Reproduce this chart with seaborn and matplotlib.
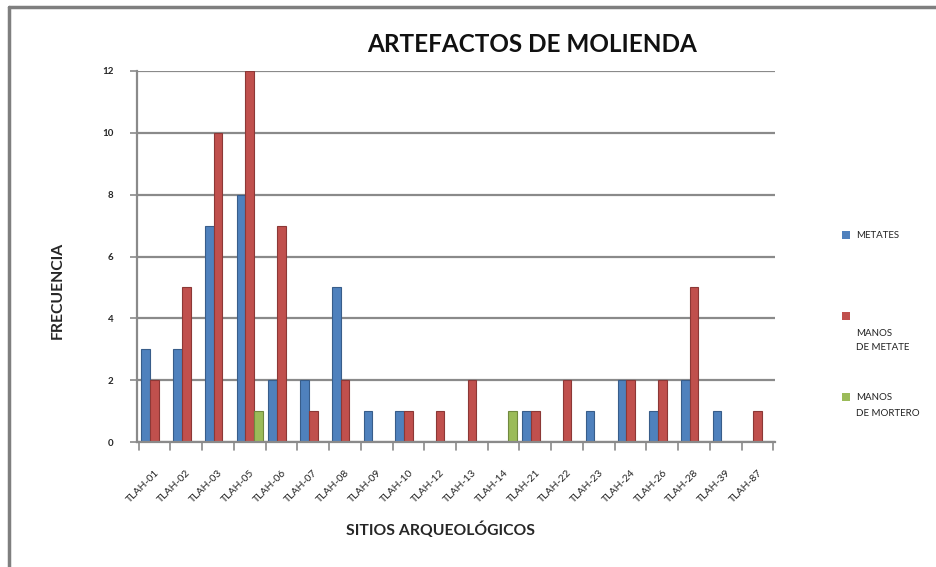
import matplotlib
matplotlib.use("Agg")
import matplotlib.pyplot as plt
from matplotlib.lines import Line2D
from matplotlib.patches import Rectangle
import seaborn as sns
import pandas as pd
import numpy as np

sitios = ["TLAH-01", "TLAH-02", "TLAH-03", "TLAH-05", "TLAH-06", "TLAH-07",
          "TLAH-08", "TLAH-09", "TLAH-10", "TLAH-12", "TLAH-13", "TLAH-14",
          "TLAH-21", "TLAH-22", "TLAH-23", "TLAH-24", "TLAH-26", "TLAH-28",
          "TLAH-39", "TLAH-87"]
metates = [3, 3, 7, 8, 2, 2, 5, 1, 1, 0, 0, 0, 1, 0, 1, 2, 1, 2, 1, 0]
manos_metate = [2, 5, 10, 12, 7, 1, 2, 0, 1, 1, 2, 0, 1, 2, 0, 2, 2, 5, 0, 1]
manos_mortero = [0, 0, 0, 1, 0, 0, 0, 0, 0, 0, 0, 1, 0, 0, 0, 0, 0, 0, 0, 0]
series = ["METATES", "MANOS DE METATE", "MANOS DE MORTERO"]
y_ticks = [0, 2, 4, 6, 8, 10, 12]

colores = ["#4F81BD", "#C0504D", "#9BBB59"]
bordes = ["#385D8A", "#8C3836", "#71893F"]

df = pd.DataFrame({
    "sitio": sitios * 3,
    "valor": metates + manos_metate + manos_mortero,
    "serie": [series[0]] * len(sitios) + [series[1]] * len(sitios) + [series[2]] * len(sitios),
})

sns.set_theme(style="white")
plt.rcParams["font.family"] = ["Lato", "DejaVu Sans"]

W, H = 936, 567
fig = plt.figure(figsize=(W / 100, H / 100), dpi=100)
ax = fig.add_axes([137 / W, 1 - 442 / H, (775 - 137) / W, (442 - 71) / H])

sns.barplot(data=df, x="sitio", y="valor", hue="serie", hue_order=series,
            palette=colores, width=0.82, ax=ax, legend=False, saturation=1)

for container, borde in zip(ax.containers, bordes):
    for bar in container:
        bar.set_edgecolor(borde)
        bar.set_linewidth(0.8)

ax.set_ylim(0, 12)
ax.set_xlim(-0.55, len(sitios) - 0.45)
ax.set_yticks(y_ticks)
ax.set_yticklabels([str(t) for t in y_ticks], fontsize=7, fontweight="bold")
ax.yaxis.grid(True, color="#8a8a8a", linewidth=1.6)
ax.set_axisbelow(True)

ax.set_xticks(np.arange(len(sitios)))
ax.set_xticklabels(sitios, rotation=45, ha="right", rotation_mode="anchor",
                   fontsize=7.5, color="#222222")
ax.tick_params(axis="x", length=0, pad=19)
ax.tick_params(axis="y", length=5, width=1.2, color="#8a8a8a", pad=12, left=True)

# boundary ticks along the category axis
for b in np.arange(len(sitios) + 1) - 0.5:
    ax.plot([b, b], [0, -0.25], color="#8a8a8a", lw=1.2, clip_on=False)

for side in ["top", "right"]:
    ax.spines[side].set_visible(False)
for side in ["left", "bottom"]:
    ax.spines[side].set_color("#8a8a8a")
    ax.spines[side].set_linewidth(1.6)

ax.set_xlabel("SITIOS ARQUEOLÓGICOS", fontsize=11.3, fontweight="bold")
ax.xaxis.set_label_coords((441 - 137) / (775 - 137), -(530 - 442) / (442 - 71))
ax.xaxis.label.set_va("center")
ax.set_ylabel("FRECUENCIA", fontsize=11.3, fontweight="bold")
ax.yaxis.set_label_coords(-(137 - 58) / (775 - 137), (442 - 290) / (442 - 71))
ax.yaxis.label.set_va("center")

fig.text(532 / W, 1 - 45 / H, "ARTEFACTOS DE MOLIENDA", ha="center", va="center",
         fontsize=17.5, fontweight="bold", color="#111111")

# legend: swatch plus wrapped label for each series
legend_items = [
    (colores[0], 235, [("METATES", 235)]),
    (colores[1], 316, [("MANOS", 333), ("DE METATE", 348)]),
    (colores[2], 397, [("MANOS", 397), ("DE MORTERO", 413)]),
]
for color, sy, lines in legend_items:
    fig.add_artist(Rectangle(((846 - 4) / W, 1 - (sy + 4) / H), 8 / W, 8 / H,
                             transform=fig.transFigure, facecolor=color, edgecolor="none"))
    for text, ty in lines:
        fig.text(856 / W, 1 - ty / H, text, ha="left", va="center", fontsize=7,
                 color="#222222")

# page frame on the left and top edges
fig.add_artist(Line2D([9 / W, 9 / W], [0, 1 - 7 / H], color="#7f7f7f", lw=2.5))
fig.add_artist(Line2D([9 / W, 1], [1 - 7 / H, 1 - 7 / H], color="#7f7f7f", lw=2.5))

fig.savefig("out.png", dpi=100)
